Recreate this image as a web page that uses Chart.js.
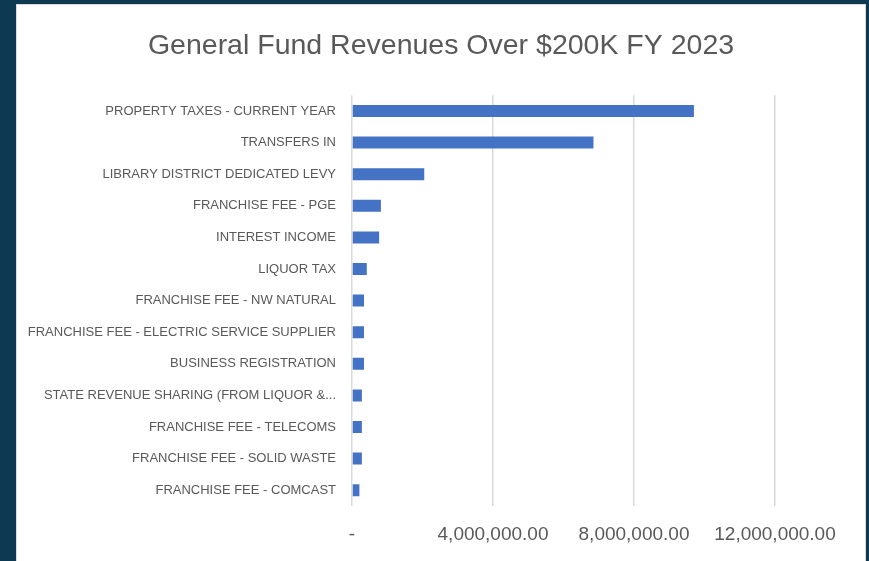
<!DOCTYPE html>
<html>
<head>
<meta charset="utf-8">
<title>General Fund Revenues Over $200K FY 2023</title>
<script src="https://cdn.jsdelivr.net/npm/chart.js@4/dist/chart.umd.min.js"></script>
<style>
  html, body { margin: 0; padding: 0; }
  body { width: 869px; height: 561px; background: #0d3a52; overflow: hidden; position: relative; }
  #card {
    position: absolute; left: 16px; top: 4px; width: 848px; height: 560px;
    background: #fff; border: 1px solid #d9d9d9;
  }
  #chart { display: block; }
</style>
</head>
<body>
<div id="card"><canvas id="chart" width="848" height="560"></canvas></div>
<script>
// categories, top to bottom
const categories = [
    'PROPERTY TAXES - CURRENT YEAR',
    'TRANSFERS IN',
    'LIBRARY DISTRICT DEDICATED LEVY',
    'FRANCHISE FEE - PGE',
    'INTEREST INCOME',
    'LIQUOR TAX',
    'FRANCHISE FEE - NW NATURAL',
    'FRANCHISE FEE - ELECTRIC SERVICE SUPPLIER',
    'BUSINESS REGISTRATION',
    'STATE REVENUE SHARING (FROM LIQUOR &...',
    'FRANCHISE FEE - TELECOMS',
    'FRANCHISE FEE - SOLID WASTE',
    'FRANCHISE FEE - COMCAST'
];

// revenue amounts
const revenues = [
    9700000, 6850000, 2050000, 820000, 770000, 420000,
    340000, 340000, 340000, 280000, 280000, 280000, 210000
];

// x axis ticks
const xTicks = [0, 4000000, 8000000, 12000000];

const grey = '#595959';
const fontFamily = 'Liberation Sans, Arial, sans-serif';

// plot runs to the card edge; the last gridline (12M) sits ~90px short of it
const plotLeft = 352, plotRight = 865, lastGrid = 775;
const xMax = 12000000 * (plotRight - plotLeft) / (lastGrid - plotLeft);

function fmtTick(v) {
    if (v === 0) return '-';
    return v.toLocaleString('en-US', { minimumFractionDigits: 2, maximumFractionDigits: 2 });
}

const ctx = document.getElementById('chart').getContext('2d');
const chart = new Chart(ctx, {
    type: 'bar',
    data: {
        labels: categories,
        datasets: [{
            data: revenues,
            backgroundColor: '#4472c4',
            borderWidth: 0,
            categoryPercentage: 1,
            barPercentage: 0.38
        }]
    },
    options: {
        indexAxis: 'y',
        responsive: false,
        animation: false,
        layout: { padding: 0 },
        plugins: {
            legend: { display: false },
            tooltip: { enabled: false },
            title: {
                display: true,
                text: 'General Fund Revenues Over $200K FY 2023',
                color: grey,
                font: { family: fontFamily, size: 28.5, weight: 'normal' },
                padding: { top: 24, bottom: 32 }
            }
        },
        scales: {
            x: {
                min: 0,
                max: xMax,
                afterBuildTicks: axis => { axis.ticks = xTicks.map(v => ({ value: v })); },
                afterFit: axis => { axis.height = 59; },
                grid: { color: '#d9d9d9', lineWidth: 1.5, drawTicks: false },
                border: { display: false },
                ticks: {
                    color: grey,
                    padding: 17,
                    maxRotation: 0,
                    font: { family: fontFamily, size: 19 },
                    callback: v => fmtTick(v)
                }
            },
            y: {
                afterFit: axis => { axis.width = 335; },
                grid: { display: false },
                border: { display: false },
                ticks: {
                    color: grey,
                    padding: 8,
                    autoSkip: false,
                    font: { family: fontFamily, size: 13 }
                }
            }
        }
    }
});
</script>
</body>
</html>
